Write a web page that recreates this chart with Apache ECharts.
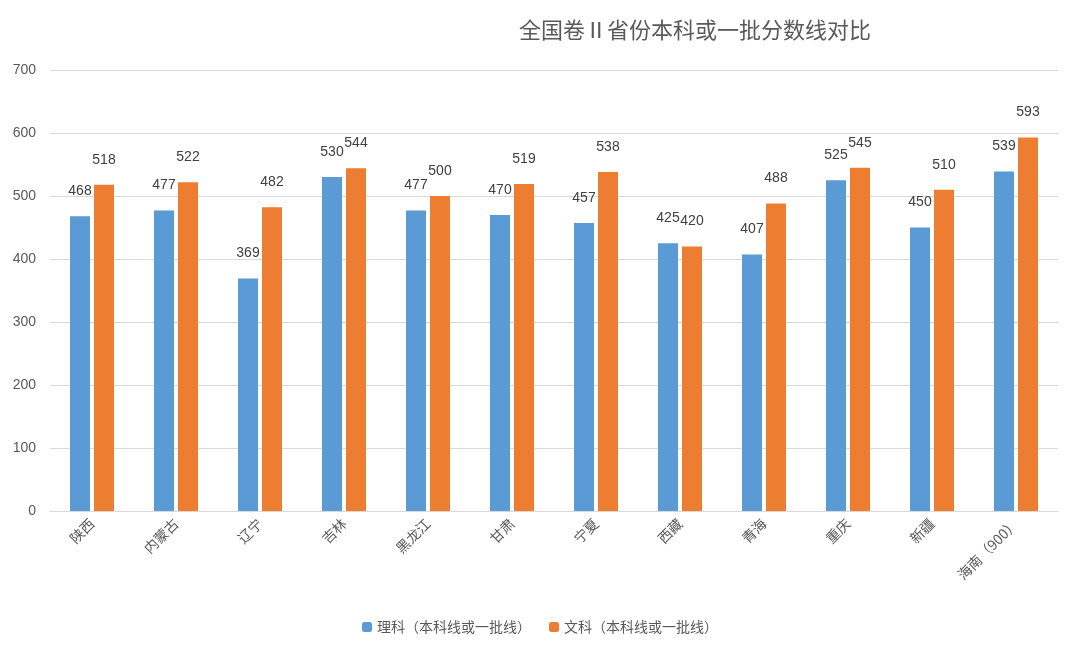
<!DOCTYPE html>
<html><head><meta charset="utf-8">
<script src="https://cdn.jsdelivr.net/npm/echarts@6/dist/echarts.min.js"></script>
<style>html,body{margin:0;padding:0;background:#fff}#c{width:1080px;height:657px}</style>
</head><body><div id="c"></div>
<script>
const categories=['陕西','内蒙古','辽宁','吉林','黑龙江','甘肃','宁夏','西藏','青海','重庆','新疆','海南（900）'];
const science=[468,477,369,530,477,470,457,425,407,525,450,539];
const arts=[518,522,482,544,500,519,538,420,488,545,510,593];
const font='"Noto Sans CJK SC","Noto Sans",sans-serif';
const chart=echarts.init(document.getElementById('c'));
chart.setOption({
  animation:false,
  title:{text:'全国卷Ⅱ省份本科或一批分数线对比',left:690,top:14,textAlign:'center',textStyle:{fontSize:22,fontWeight:'normal',color:'#595959',fontFamily:font}},
  grid:{left:50,right:22,top:70,bottom:146,containLabel:false},
  legend:{bottom:18,left:'center',itemWidth:10,itemHeight:10,itemGap:18,textStyle:{fontSize:14,color:'#595959',fontFamily:font},data:['理科（本科线或一批线）','文科（本科线或一批线）']},
  xAxis:{type:'category',data:categories,axisTick:{show:false},axisLine:{lineStyle:{color:'#d9d9d9'}},
    axisLabel:{rotate:45,fontSize:14,color:'#595959',fontFamily:font,margin:10}},
  yAxis:{type:'value',min:0,max:700,interval:100,axisLine:{show:false},axisTick:{show:false},
    splitLine:{lineStyle:{color:'#d9d9d9'}},axisLabel:{fontSize:14,color:'#595959',margin:14}},
  series:[
    {name:'理科（本科线或一批线）',type:'bar',data:science,barWidth:20,barGap:'20%',itemStyle:{color:'#5B9BD5'},
     label:{show:true,position:'top',fontSize:14,color:'#404040',distance:18}},
    {name:'文科（本科线或一批线）',type:'bar',data:arts,barWidth:20,itemStyle:{color:'#ED7D31'},
     label:{show:true,position:'top',fontSize:14,color:'#404040',distance:18}}
  ]
});
</script></body></html>
